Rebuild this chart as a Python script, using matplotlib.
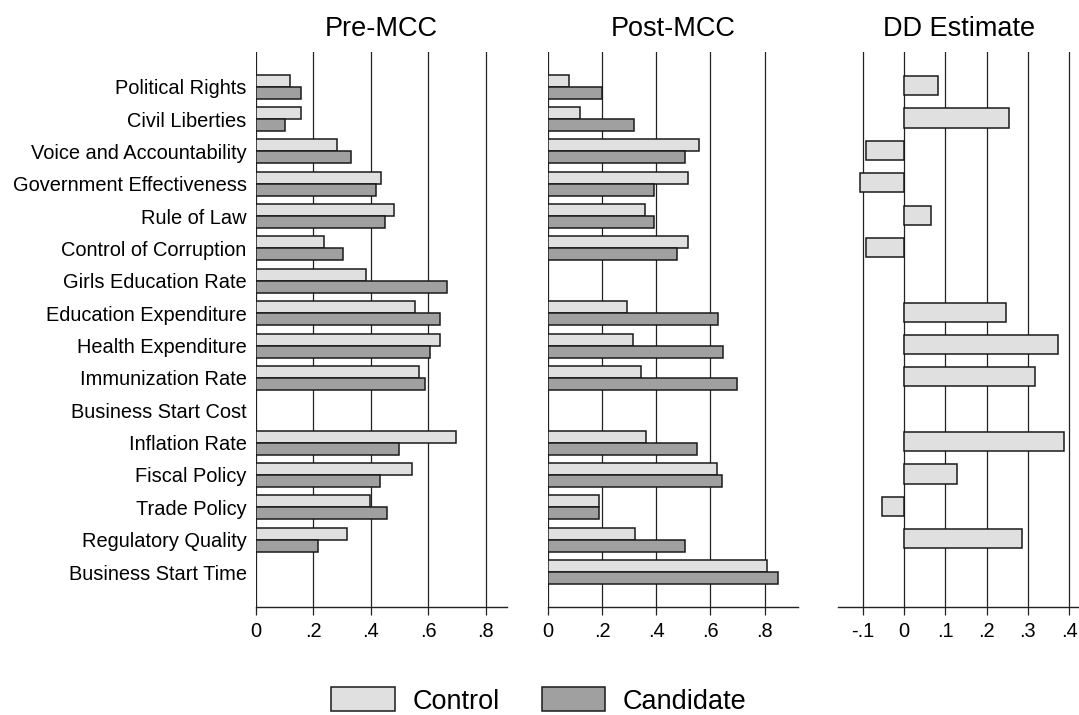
import numpy as np
import matplotlib
matplotlib.use("Agg")
from matplotlib import pyplot as plt
from matplotlib.patches import Patch

plt.rcParams['font.family'] = ['Liberation Sans', 'DejaVu Sans']

categories = ['Political Rights', 'Civil Liberties', 'Voice and Accountability',
              'Government Effectiveness', 'Rule of Law', 'Control of Corruption',
              'Girls Education Rate', 'Education Expenditure', 'Health Expenditure',
              'Immunization Rate', 'Business Start Cost', 'Inflation Rate',
              'Fiscal Policy', 'Trade Policy', 'Regulatory Quality',
              'Business Start Time']

nan = np.nan
pre_control = [0.120, 0.159, 0.282, 0.437, 0.480, 0.239, 0.385, 0.555, 0.642,
               0.569, nan, 0.697, 0.543, 0.399, 0.316, nan]
pre_candidate = [0.156, 0.101, 0.330, 0.420, 0.449, 0.304, 0.664, 0.642, 0.607,
                 0.590, nan, 0.500, 0.434, 0.456, 0.218, nan]
post_control = [0.077, 0.120, 0.559, 0.518, 0.357, 0.518, nan, 0.292, 0.316,
                0.345, nan, 0.361, 0.623, 0.188, 0.321, 0.808]
post_candidate = [0.201, 0.319, 0.507, 0.391, 0.391, 0.478, nan, 0.628, 0.645,
                  0.699, nan, 0.552, 0.644, 0.190, 0.507, 0.847]
dd_estimate = [0.081, 0.254, -0.094, -0.108, 0.064, -0.094, nan, 0.248, 0.372,
               0.317, nan, 0.387, 0.127, -0.053, 0.286, nan]

light = '#e0e0e0'
dark = '#a0a0a0'
edge = '#1a1a1a'

W, H = 1079, 715
fig = plt.figure(figsize=(W / 100, H / 100), dpi=100)


def px_axes(left, right, top, bottom):
    return fig.add_axes([left / W, 1 - bottom / H, (right - left) / W, (bottom - top) / H])


def style(ax, ticks, labels, xlim, title):
    ax.set_xlim(*xlim)
    ax.set_ylim(len(categories) - 1 + 1.07, -1.08)
    ax.set_xticks(ticks)
    ax.set_xticklabels(labels)
    ax.set_axisbelow(True)
    ax.grid(axis='x', color='#222222', linewidth=0.9)
    for s in ['top', 'right', 'left']:
        ax.spines[s].set_visible(False)
    ax.spines['bottom'].set_linewidth(1.0)
    ax.spines['bottom'].set_color('#222222')
    ax.tick_params(axis='x', direction='out', length=6, width=0.9,
                   color='#222222', labelsize=14.4, pad=5)
    ax.set_title(title, fontsize=19.5, pad=11)


y = np.arange(len(categories))
bh = 0.37

ax1 = px_axes(255.7, 507, 51.7, 606.7)
ax1.barh(y - bh / 2, pre_control, height=bh, color=light, edgecolor=edge, linewidth=1.1)
ax1.barh(y + bh / 2, pre_candidate, height=bh, color=dark, edgecolor=edge, linewidth=1.1)
style(ax1, [0, .2, .4, .6, .8], ['0', '.2', '.4', '.6', '.8'], (0, 0.874), 'Pre-MCC')
ax1.set_yticks(y)
ax1.set_yticklabels(categories)
ax1.tick_params(axis='y', length=0, labelsize=14.4, pad=6.5)

ax2 = px_axes(547.7, 798, 51.7, 606.7)
ax2.barh(y - bh / 2, post_control, height=bh, color=light, edgecolor=edge, linewidth=1.1)
ax2.barh(y + bh / 2, post_candidate, height=bh, color=dark, edgecolor=edge, linewidth=1.1)
style(ax2, [0, .2, .4, .6, .8], ['0', '.2', '.4', '.6', '.8'], (0, 0.9225), 'Post-MCC')
ax2.set_yticks([])

ax3 = px_axes(838.3, 1079, 51.7, 606.7)
ax3.barh(y - 0.03, dd_estimate, height=0.59, color=light, edgecolor=edge, linewidth=1.1)
style(ax3, [-.1, 0, .1, .2, .3, .4], ['-.1', '0', '.1', '.2', '.3', '.4'],
      (-0.16, 0.424), 'DD Estimate')
ax3.set_yticks([])

handles = [Patch(facecolor=light, edgecolor=edge, linewidth=1.1, label='Control'),
           Patch(facecolor=dark, edgecolor=edge, linewidth=1.1, label='Candidate')]
fig.legend(handles=handles, loc='center', bbox_to_anchor=(539 / W, 1 - 701 / H),
           ncol=2, frameon=False, fontsize=19.5, handlelength=2.33, handleheight=0.96,
           handletextpad=0.67, columnspacing=1.54)

fig.savefig('out.png', dpi=100)
